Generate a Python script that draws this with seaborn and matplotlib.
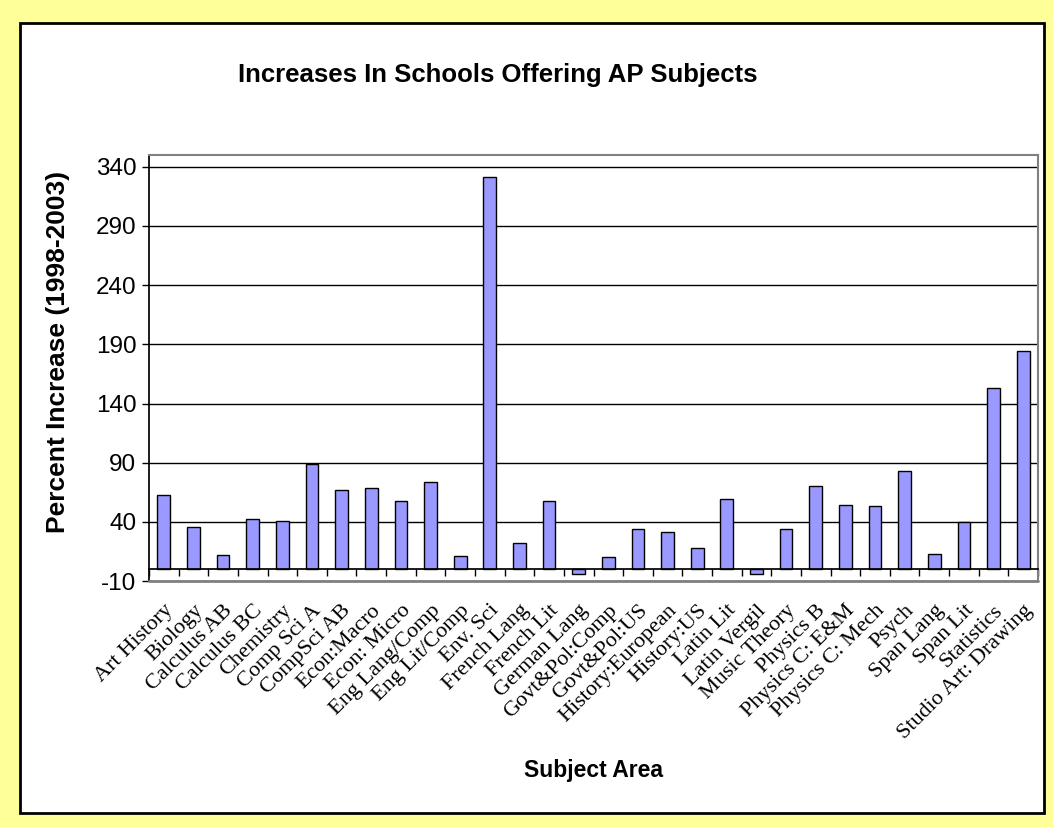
import numpy as np
import matplotlib
matplotlib.use("Agg")
import matplotlib.pyplot as plt
from matplotlib.patches import Rectangle
import seaborn as sns

categories = ["Art History", "Biology", "Calculus AB", "Calculus BC", "Chemistry",
              "Comp Sci A", "CompSci AB", "Econ:Macro", "Econ: Micro", "Eng Lang/Comp",
              "Eng Lit/Comp", "Env. Sci", "French Lang", "French Lit", "German Lang",
              "Govt&Pol:Comp", "Govt&Pol:US", "History:European", "History:US", "Latin Lit",
              "Latin Vergil", "Music Theory", "Physics B", "Physics C: E&M", "Physics C: Mech",
              "Psych", "Span Lang", "Span Lit", "Statistics", "Studio Art: Drawing"]
values = [63, 36, 12, 42, 41, 89, 66.5, 68.5, 58, 74,
          11, 331, 22, 58, -4,
          10, 34, 31.5, 18, 59,
          -4, 34, 70, 54.5, 53,
          83, 13, 40, 153, 184.5]
yticks = [-10, 40, 90, 140, 190, 240, 290, 340]

title = "Increases In Schools Offering AP Subjects"
xlabel = "Subject Area"
ylabel = "Percent Increase (1998-2003)"

sns.set_theme(style="white")
plt.rcParams["font.family"] = ["Liberation Sans", "DejaVu Sans"]
plt.rcParams["text.color"] = "black"

fig = plt.figure(figsize=(10.53, 8.27), dpi=100)
fig.patch.set_facecolor("#FFFF99")
frame = Rectangle((20 / 1053, 1 - 813 / 827), (1044 - 20) / 1053, (813 - 23) / 827,
                  transform=fig.transFigure, facecolor="white",
                  edgecolor="black", linewidth=2, zorder=-5)
fig.patches.append(frame)

ax = fig.add_axes([149 / 1053, 1 - 581 / 827, (1038 - 149) / 1053, (581 - 155) / 827])
ax.set_zorder(2)
ax.set_facecolor("white")

sns.barplot(x=categories, y=values, color="#9999FF", saturation=1, edgecolor="black",
            linewidth=1, width=0.43, ax=ax, zorder=3)

n = len(categories)
ax.set_xlim(-0.5, n - 0.5)
ax.set_ylim(-10, 350)
ax.set_yticks(yticks)
ax.set_yticklabels([str(t) for t in yticks], fontsize=17.5, color="black")
ax.yaxis.grid(True, color="black", linewidth=1)
ax.set_axisbelow(True)
ax.axhline(yticks[0], color="#808080", linewidth=2, zorder=5, clip_on=False)

ax.spines["bottom"].set_position(("data", 0))
ax.spines["bottom"].set_color("black")
ax.spines["bottom"].set_zorder(4)
for s in ["top", "right"]:
    ax.spines[s].set_color("#808080")
    ax.spines[s].set_linewidth(1.5)
ax.spines["left"].set_color("black")

ax.set_xticks(np.arange(n))
ax.set_xticks(np.arange(n + 1) - 0.5, minor=True)
ax.tick_params(axis="x", which="major", length=0, pad=23)
ax.tick_params(axis="x", which="minor", length=5, width=1, direction="out", color="black", bottom=True)
ax.tick_params(axis="y", which="major", length=5, width=1, direction="out", color="black", left=True, pad=4)
ax.set_xticklabels(categories, rotation=45, ha="right", rotation_mode="anchor",
                   fontfamily=["Liberation Serif"], fontsize=16, color="black")

ax.set_xlabel("")
ax.set_ylabel("")
fig.text(593 / 1053, 1 - 770 / 827, xlabel, ha="center", va="center",
         fontweight="bold", fontsize=16.5, color="black")
fig.text(58 / 1053, 1 - 352 / 827, ylabel, ha="center", va="center", rotation=90,
         fontweight="bold", fontsize=19, color="black")
fig.text(498 / 1053, 1 - 75 / 827, title, ha="center", va="center",
         fontweight="bold", fontsize=18.5, color="black")

fig.savefig("out.png", dpi=100, facecolor=fig.get_facecolor())
